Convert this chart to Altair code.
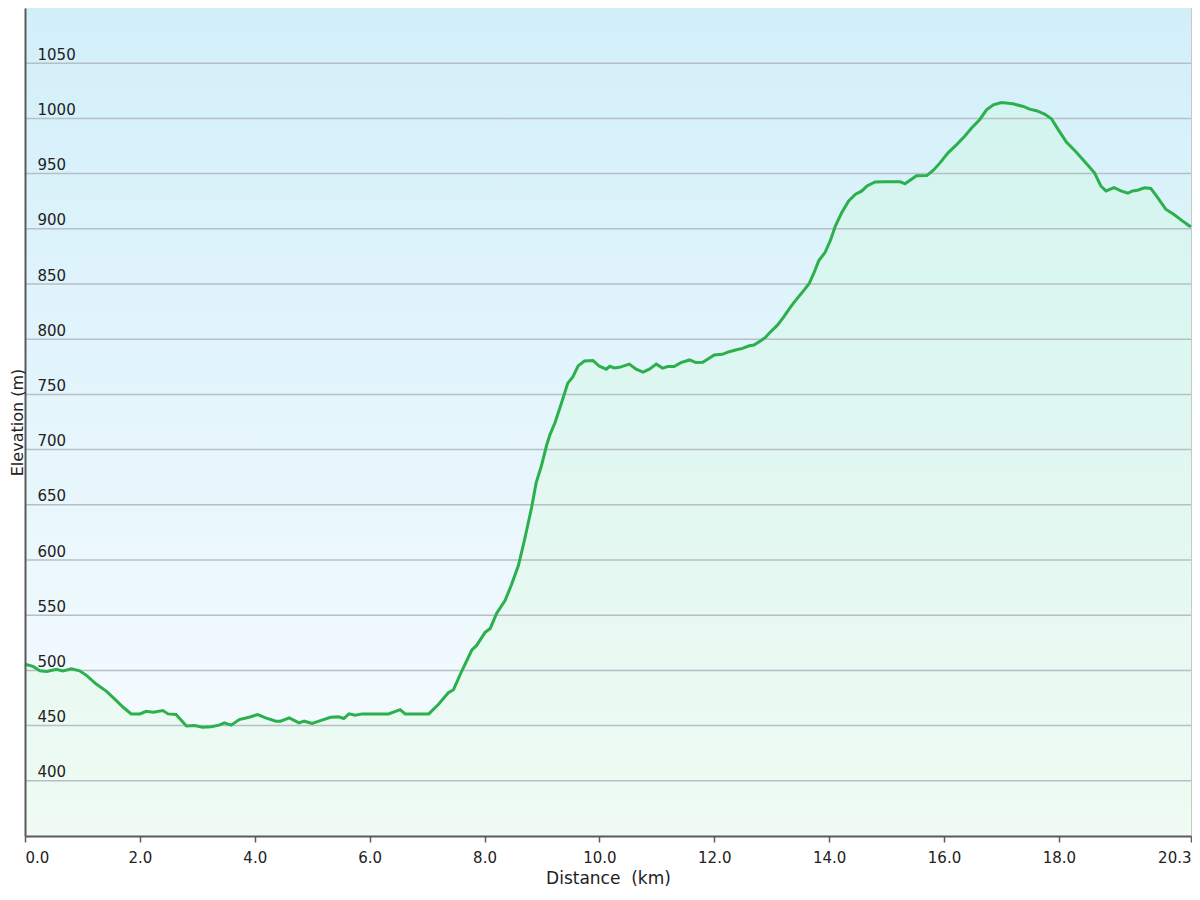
import altair as alt
import pandas as pd

# ---- data ----
distance_km = [
    0.00, 0.14, 0.26, 0.38, 0.55, 0.66, 0.81, 0.95, 1.07, 1.24, 1.42, 1.59, 1.71, 1.85,
    2.00, 2.11, 2.23, 2.40, 2.49, 2.63, 2.81, 2.95, 3.09, 3.24, 3.38, 3.47, 3.59, 3.73,
    3.90, 4.05, 4.19, 4.37, 4.45, 4.60, 4.77, 4.86, 5.00, 5.17, 5.32, 5.46, 5.55, 5.64,
    5.75, 5.87, 6.33, 6.53, 6.62, 7.03, 7.20, 7.37, 7.46, 7.60, 7.78, 7.86, 8.01, 8.10,
    8.21, 8.36, 8.47, 8.59, 8.70, 8.82, 8.90, 8.99, 9.08, 9.14, 9.23, 9.34, 9.45, 9.54,
    9.63, 9.74, 9.89, 10.00, 10.12, 10.18, 10.26, 10.35, 10.52, 10.64, 10.76, 10.87,
    10.99, 11.10, 11.19, 11.30, 11.42, 11.57, 11.68, 11.80, 11.91, 12.00, 12.14, 12.26,
    12.37, 12.49, 12.61, 12.69, 12.81, 12.89, 12.98, 13.10, 13.21, 13.33, 13.44, 13.56,
    13.65, 13.73, 13.82, 13.93, 14.02, 14.11, 14.22, 14.34, 14.46, 14.57, 14.66, 14.80,
    14.95, 15.12, 15.24, 15.32, 15.41, 15.52, 15.70, 15.81, 15.93, 16.07, 16.22, 16.36,
    16.48, 16.62, 16.74, 16.86, 17.00, 17.20, 17.38, 17.49, 17.61, 17.75, 17.87, 17.98,
    18.13, 18.30, 18.47, 18.62, 18.73, 18.82, 18.96, 19.08, 19.20, 19.28, 19.37, 19.49,
    19.60, 19.72, 19.86, 20.01, 20.15, 20.27, 20.30,
]
elevation_m = [
    505.6, 503.6, 499.6, 499.0, 501.1, 499.6, 501.4, 499.6, 495.5, 487.6, 481.0, 472.6, 466.6, 460.6,
    460.6, 463.0, 462.1, 463.6, 460.6, 460.0, 449.6, 450.1, 448.6, 448.9, 450.4, 452.5, 450.4, 455.5,
    457.6, 460.0, 457.0, 454.0, 454.0, 457.0, 452.5, 454.0, 451.9, 454.9, 457.6, 457.9, 456.4, 460.6,
    459.4, 460.6, 460.6, 464.5, 460.6, 460.6, 469.3, 479.8, 482.5, 499.0, 518.5, 522.4, 534.5, 538.0,
    551.6, 563.5, 577.7, 595.0, 619.0, 647.6, 670.1, 685.1, 703.7, 713.6, 724.7, 742.2, 760.2, 766.1,
    775.8, 780.3, 780.6, 775.5, 772.8, 775.5, 774.0, 774.5, 777.4, 772.8, 770.1, 772.8,
    777.4, 773.8, 775.2, 775.2, 778.8, 781.2, 778.8, 779.0, 782.7, 785.7, 786.3, 788.7,
    790.2, 791.7, 794.0, 794.7, 798.6, 801.6, 806.7, 812.7, 820.2, 829.2, 836.7, 844.2,
    850.2, 859.3, 871.2, 878.7, 889.2, 902.7, 914.7, 925.3, 931.3, 934.3, 938.8, 942.4,
    942.6, 942.6, 942.6, 940.8, 944.0, 948.0, 948.2, 952.9, 959.7, 968.8, 976.3, 983.8,
    991.3, 998.8, 1007.8, 1012.3, 1014.4, 1013.2, 1010.8, 1008.4, 1007.0, 1003.9, 999.7, 990.5,
    978.5, 969.5, 959.7, 950.7, 938.8, 934.3, 937.2, 934.3, 932.2, 934.3, 934.9, 937.2,
    936.6, 928.2, 917.8, 912.7, 907.2, 902.7, 902.0,
]
y_ticks = [400, 450, 500, 550, 600, 650, 700, 750, 800, 850, 900, 950, 1000, 1050]
x_ticks = [0, 2, 4, 6, 8, 10, 12, 14, 16, 18, 20.3]
y_domain = [350, 1100]
x_domain = [0, 20.3]

W, H = 1166, 828
FONT = "DejaVu Sans"
TXT = "#222222"
AXC = "#5a5a5a"

df = pd.DataFrame({"d": distance_km, "e": elevation_m})
grid_df = pd.DataFrame({"e": y_ticks})
bg_df = pd.DataFrame({"k": [0]})

xscale = alt.Scale(domain=x_domain, nice=False, zero=False)
yscale = alt.Scale(domain=y_domain, nice=False, zero=False)

x_axis = alt.Axis(
    values=x_ticks, format=".1f", title="Distance\u00a0\u00a0(km)", grid=False,
    tickSize=6, tickColor=AXC, tickWidth=1.5, labelPadding=8, labelFlush=True,
    labelOverlap=False, labelFont=FONT, labelFontSize=15, labelColor=TXT,
    domainColor=AXC, domainWidth=2, titleFont=FONT, titleFontSize=17,
    titleFontWeight="normal", titleColor=TXT, titleY=47, titleBaseline="alphabetic",
    zindex=1,
)
y_axis = alt.Axis(
    values=y_ticks, format="d", title="Elevation (m)", grid=False, ticks=False, tickSize=0,
    labelAlign="left", labelPadding=-12, labelBaseline="alphabetic", labelOffset=-4,
    labelOverlap=False, labelFont=FONT, labelFontSize=15, labelColor=TXT,
    domainColor=AXC, domainWidth=2, titleFont=FONT, titleFontSize=16,
    titleFontWeight="normal", titleColor=TXT, titleX=-8, titleY=H / 2,
    titleAngle=270, titleAlign="center", titleBaseline="middle", zindex=1,
)

X = alt.X("d:Q", scale=xscale, axis=x_axis)
Y = alt.Y("e:Q", scale=yscale, axis=y_axis)

bg = alt.Chart(bg_df).mark_rect(
    fill=alt.Gradient(
        gradient="linear", x1=0, x2=0, y1=0, y2=1,
        stops=[alt.GradientStop(color="#d2eff9", offset=0),
               alt.GradientStop(color="#f8fcff", offset=1)],
    )
).encode(x=alt.value(0), x2=alt.value(W), y=alt.value(0), y2=alt.value(H))

area = alt.Chart(df).mark_area(
    fill=alt.Gradient(
        gradient="linear", x1=0, x2=0, y1=0, y2=1,
        stops=[alt.GradientStop(color="#d3f4ef", offset=0),
               alt.GradientStop(color="#effbf3", offset=1)],
    )
).encode(x=X, y=Y, y2=alt.datum(350))

grid = alt.Chart(grid_df).mark_rule(color="#b6bfc5", strokeWidth=1.5).encode(y=Y)

line = alt.Chart(df).mark_line(color="#2bb04d", strokeWidth=3).encode(x=X, y=Y)

chart = alt.layer(bg, area, grid, line).properties(
    width=W, height=H,
    autosize=alt.AutoSizeParams(type="none"),
    padding={"left": 17, "top": 0, "right": 1, "bottom": 52},
).configure_view(stroke="#c8c8c8", strokeWidth=1)

chart.save("out.html", embed_options={"renderer": "svg", "actions": False})
